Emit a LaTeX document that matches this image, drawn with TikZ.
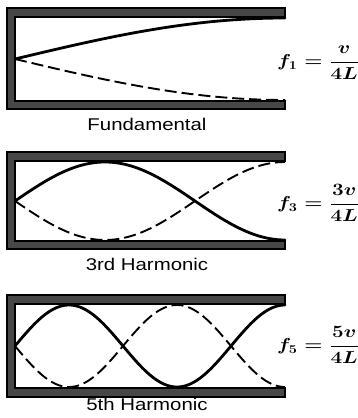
\documentclass[tikz,border=0pt]{standalone}
\usepackage{fontspec}
\usepackage{graphicx}
\newfontfamily\labelfont{Liberation Sans}
\tikzset{
  wall/.style={fill=black!72, draw=black, line width=1.3pt, line join=miter},
  solidwave/.style={line width=2.8pt, line cap=round},
  dashwave/.style={line width=1.9pt, dash pattern=on 12pt off 5pt},
  caption/.style={anchor=base, inner sep=0pt, font=\labelfont\fontsize{17}{20}\selectfont},
  formula/.style={anchor=west, inner sep=0pt, font=\fontsize{18}{22}\selectfont}
}
\newcommand{\tubewall}[4]{% outer top, inner top, inner bottom, outer bottom (tikz y)
  \fill[wall] (285,#1) -- (7,#1) -- (7,#4) -- (285,#4) -- (285,#3) -- (15,#3) -- (15,#2) -- (285,#2) -- cycle;}
\begin{document}
\begin{tikzpicture}[x=1pt,y=1pt]
\useasboundingbox (0,0) rectangle (358,418);
% Fundamental
\tubewall{410}{401}{317}{309}
\draw[solidwave] plot[domain=0:270, samples=80] ({15+\x},{359+41*sin(\x/3)});
\draw[dashwave] plot[domain=0:270, samples=80] ({15+\x},{359-41*sin(\x/3)});
\node[formula] (f1) at (277,355) {\scalebox{1.2}[1]{\boldmath$\displaystyle f_1 = \frac{v}{4L}$}};
\node[caption] (c1) at (147,287) {\scalebox{1.2}[1]{Fundamental}};
% 3rd harmonic
\tubewall{266}{257}{177}{169}
\draw[solidwave] plot[domain=0:270, samples=120] ({15+\x},{217+39*sin(\x)});
\draw[dashwave] plot[domain=0:270, samples=120] ({15+\x},{217-39*sin(\x)});
\node[formula] (f3) at (277,215) {\scalebox{1.2}[1]{\boldmath$\displaystyle f_3 = \frac{3v}{4L}$}};
\node[caption] (c3) at (147,147) {\scalebox{1.2}[1]{3rd Harmonic}};
% 5th harmonic
\tubewall{123}{114}{30}{21}
\draw[solidwave] plot[domain=0:270, samples=160] ({15+\x},{72+41*sin(5*\x/3)});
\draw[dashwave] plot[domain=0:270, samples=160] ({15+\x},{72-41*sin(5*\x/3)});
\node[formula] (f5) at (277,73) {\scalebox{1.2}[1]{\boldmath$\displaystyle f_5 = \frac{5v}{4L}$}};
\node[caption] (c5) at (147,7) {\scalebox{1.2}[1]{5th Harmonic}};
\end{tikzpicture}
\end{document}
